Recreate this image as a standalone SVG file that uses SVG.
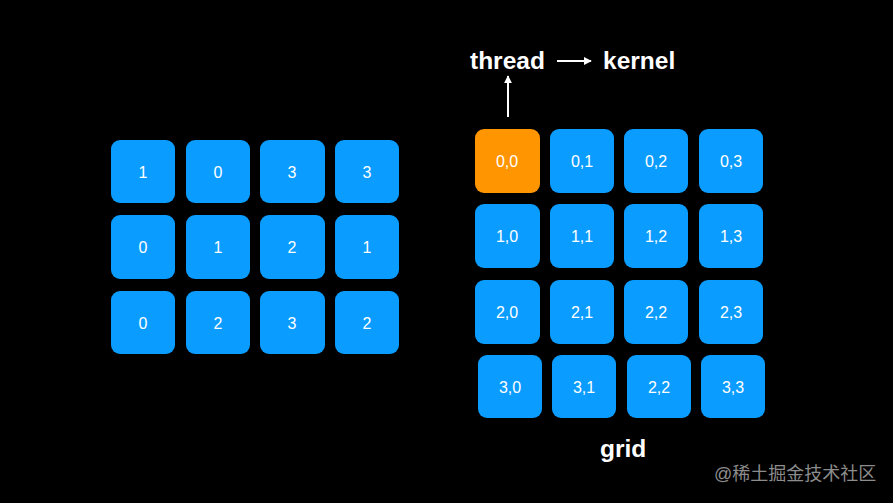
<svg xmlns="http://www.w3.org/2000/svg" width="893" height="503" viewBox="0 0 893 503">
<style>
.b{fill:#0A9CFF}
.o{fill:#FF9500}
.t{font-family:"Liberation Sans",Arial,sans-serif;font-size:16px;fill:#fff;text-anchor:middle;dominant-baseline:central}
.h{font-family:"Liberation Sans",Arial,sans-serif;font-size:24.5px;font-weight:bold;fill:#fff}
.w{font-family:"Liberation Sans","Noto Sans CJK SC",sans-serif;font-size:18px;fill:#8c8c8c}
.c{stroke:#fff;stroke-width:2;fill:none}
</style>
<defs>
<marker id="ah" viewBox="0 0 10 10" refX="9" refY="5" markerWidth="4" markerHeight="4" orient="auto" markerUnits="strokeWidth">
<path d="M0,0 L10,5 L0,10 z" fill="#fff"/>
</marker>
</defs>
<rect width="893" height="503" fill="#000"/>
<g id="left">
<g id="L00"><rect class="b" x="111" y="140" width="64" height="63" rx="9"/><text class="t" x="143" y="172">1</text></g>
<g id="L01"><rect class="b" x="186" y="140" width="64" height="63" rx="9"/><text class="t" x="218" y="172">0</text></g>
<g id="L02"><rect class="b" x="260" y="140" width="65" height="63" rx="9"/><text class="t" x="292" y="172">3</text></g>
<g id="L03"><rect class="b" x="335" y="140" width="64" height="63" rx="9"/><text class="t" x="367" y="172">3</text></g>
<g id="L10"><rect class="b" x="111" y="215" width="64" height="64" rx="9"/><text class="t" x="143" y="247">0</text></g>
<g id="L11"><rect class="b" x="186" y="215" width="64" height="64" rx="9"/><text class="t" x="218" y="247">1</text></g>
<g id="L12"><rect class="b" x="260" y="215" width="65" height="64" rx="9"/><text class="t" x="292" y="247">2</text></g>
<g id="L13"><rect class="b" x="335" y="215" width="64" height="64" rx="9"/><text class="t" x="367" y="247">1</text></g>
<g id="L20"><rect class="b" x="111" y="291" width="64" height="63" rx="9"/><text class="t" x="143" y="323">0</text></g>
<g id="L21"><rect class="b" x="186" y="291" width="64" height="63" rx="9"/><text class="t" x="218" y="323">2</text></g>
<g id="L22"><rect class="b" x="260" y="291" width="65" height="63" rx="9"/><text class="t" x="292" y="323">3</text></g>
<g id="L23"><rect class="b" x="335" y="291" width="64" height="63" rx="9"/><text class="t" x="367" y="323">2</text></g>
</g>
<g id="grid">
<g id="G00"><rect class="o" x="475" y="129" width="65" height="64" rx="9"/><text class="t" x="507" y="161">0,0</text></g>
<g id="G01"><rect class="b" x="550" y="129" width="64" height="64" rx="9"/><text class="t" x="582" y="161">0,1</text></g>
<g id="G02"><rect class="b" x="624" y="129" width="64" height="64" rx="9"/><text class="t" x="656" y="161">0,2</text></g>
<g id="G03"><rect class="b" x="699" y="129" width="64" height="64" rx="9"/><text class="t" x="731" y="161">0,3</text></g>
<g id="G10"><rect class="b" x="475" y="204" width="65" height="64" rx="9"/><text class="t" x="507" y="236">1,0</text></g>
<g id="G11"><rect class="b" x="550" y="204" width="64" height="64" rx="9"/><text class="t" x="582" y="236">1,1</text></g>
<g id="G12"><rect class="b" x="624" y="204" width="64" height="64" rx="9"/><text class="t" x="656" y="236">1,2</text></g>
<g id="G13"><rect class="b" x="699" y="204" width="64" height="64" rx="9"/><text class="t" x="731" y="236">1,3</text></g>
<g id="G20"><rect class="b" x="475" y="280" width="65" height="64" rx="9"/><text class="t" x="507" y="312">2,0</text></g>
<g id="G21"><rect class="b" x="550" y="280" width="64" height="64" rx="9"/><text class="t" x="582" y="312">2,1</text></g>
<g id="G22"><rect class="b" x="624" y="280" width="64" height="64" rx="9"/><text class="t" x="656" y="312">2,2</text></g>
<g id="G23"><rect class="b" x="699" y="280" width="64" height="64" rx="9"/><text class="t" x="731" y="312">2,3</text></g>
<g id="G30"><rect class="b" x="478" y="355" width="64" height="63" rx="9"/><text class="t" x="510" y="387">3,0</text></g>
<g id="G31"><rect class="b" x="552" y="355" width="64" height="63" rx="9"/><text class="t" x="584" y="387">3,1</text></g>
<g id="G32"><rect class="b" x="627" y="355" width="64" height="63" rx="9"/><text class="t" x="659" y="387">2,2</text></g>
<g id="G33"><rect class="b" x="701" y="355" width="64" height="63" rx="9"/><text class="t" x="733" y="387">3,3</text></g>
</g>
<g id="thread"><text class="h" x="470" y="69">thread</text></g>
<g id="kernel"><text class="h" x="603" y="69">kernel</text></g>
<g id="gridlabel"><text class="h" x="600" y="457">grid</text></g>
<g id="connectors">
<line class="c" x1="557" y1="61" x2="591" y2="61" marker-end="url(#ah)"/>
<line class="c" x1="508" y1="117" x2="508" y2="76" marker-end="url(#ah)"/>
</g>
<text class="w" x="714" y="480">@稀土掘金技术社区</text>
</svg>
